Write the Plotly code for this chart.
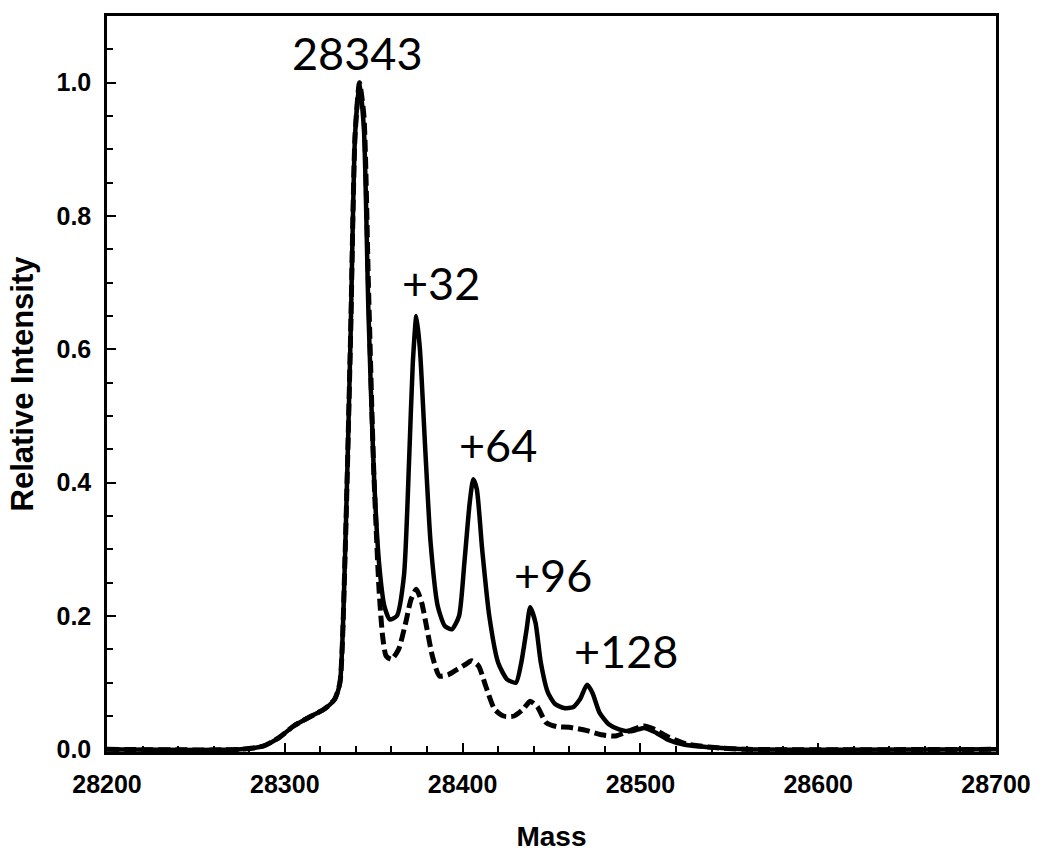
import plotly.graph_objects as go

# Solid trace (mass, relative intensity)
solid_mass = [28200, 28275, 28288, 28297, 28305, 28315, 28322, 28328, 28331, 28334,
              28337, 28339.5, 28342, 28344.5, 28347, 28350, 28353, 28356, 28359, 28363,
              28367, 28370, 28372, 28374, 28376, 28379, 28382, 28386, 28390, 28394,
              28398, 28401, 28404, 28406, 28408, 28411, 28415, 28420, 28425, 28430,
              28433, 28436, 28438, 28441, 28444, 28448, 28452, 28457, 28462, 28466,
              28470, 28473, 28477, 28482, 28488, 28495, 28502, 28508, 28515, 28525,
              28540, 28560, 28700]
solid_int = [0.0, 0.0, 0.005, 0.018, 0.035, 0.05, 0.06, 0.075, 0.10, 0.30,
             0.62, 0.92, 1.0, 0.93, 0.66, 0.42, 0.28, 0.215, 0.195, 0.20,
             0.26, 0.44, 0.58, 0.65, 0.60, 0.45, 0.31, 0.215, 0.185, 0.18,
             0.20, 0.28, 0.37, 0.405, 0.39, 0.30, 0.20, 0.13, 0.105, 0.10,
             0.13, 0.18, 0.213, 0.19, 0.13, 0.085, 0.068, 0.062, 0.063, 0.075,
             0.097, 0.085, 0.055, 0.038, 0.03, 0.027, 0.032, 0.026, 0.015, 0.007,
             0.003, 0.0, 0.0]

# Dashed trace
dash_mass = [28200, 28275, 28288, 28297, 28305, 28315, 28322, 28328, 28331, 28334,
             28337, 28339.5, 28342, 28344.5, 28347, 28350, 28353, 28355, 28357, 28360,
             28364, 28368, 28371, 28374, 28377, 28380, 28383, 28387, 28392, 28397,
             28402, 28405, 28409, 28413, 28418, 28423, 28429, 28434, 28438, 28442,
             28447, 28453, 28460, 28470, 28478, 28486, 28494, 28502, 28508, 28516,
             28526, 28540, 28560, 28700]
dash_int = [0.0, 0.0, 0.005, 0.018, 0.035, 0.05, 0.06, 0.075, 0.10, 0.30,
            0.62, 0.92, 1.0, 0.95, 0.70, 0.42, 0.24, 0.17, 0.14, 0.135,
            0.15, 0.19, 0.225, 0.24, 0.22, 0.18, 0.14, 0.11, 0.112, 0.12,
            0.128, 0.133, 0.125, 0.095, 0.06, 0.05, 0.05, 0.06, 0.072, 0.064,
            0.04, 0.034, 0.033, 0.028, 0.022, 0.02, 0.028, 0.035, 0.03, 0.018,
            0.008, 0.003, 0.0, 0.0]

# Peak labels
label_text = ["28343", "+32", "+64", "+96", "+128"]
label_x = [28341, 28388, 28420, 28451, 28492]
label_y = [1.045, 0.70, 0.457, 0.262, 0.148]

x_ticks = [28200, 28300, 28400, 28500, 28600, 28700]
y_ticks = [0.0, 0.2, 0.4, 0.6, 0.8, 1.0]

tick_font = dict(family="Liberation Sans Narrow, Liberation Sans, Arial", size=25,
                 color="black", weight="bold")

fig = go.Figure()
fig.add_trace(go.Scatter(x=solid_mass, y=solid_int, mode="lines",
                         line=dict(color="black", width=4.5, shape="spline", smoothing=0.6),
                         showlegend=False))
fig.add_trace(go.Scatter(x=dash_mass, y=dash_int, mode="lines",
                         line=dict(color="black", width=5, dash="12px,5px",
                                   shape="spline", smoothing=0.6),
                         showlegend=False))

for t, x, y in zip(label_text, label_x, label_y):
    fig.add_annotation(x=x, y=y, text=t, showarrow=False, xref="x", yref="y",
                       font=dict(family="Lato, Open Sans, sans-serif", size=45, color="black"))

fig.update_layout(
    width=1043, height=859,
    margin=dict(l=107, r=40, t=16, b=104),
    plot_bgcolor="white", paper_bgcolor="white",
    showlegend=False,
)
fig.update_xaxes(
    range=[28200, 28700], tickvals=x_ticks, ticktext=[str(v) for v in x_ticks],
    showline=True, linecolor="black", linewidth=2.5, mirror=True,
    ticks="inside", ticklen=9, tickwidth=2, tickcolor="black",
    minor=dict(dtick=20, tick0=28200, ticks="inside", ticklen=6, tickwidth=1.5, tickcolor="black"),
    showgrid=False, zeroline=False, tickfont=tick_font, ticklabelstandoff=8,
    title=dict(text="Mass", font=dict(family="Liberation Sans Narrow, Liberation Sans, Arial",
                                      size=28, color="black", weight="bold"), standoff=30),
)
fig.update_yaxes(
    range=[-0.004, 1.1], tickvals=y_ticks, ticktext=["%.1f" % v for v in y_ticks],
    showline=True, linecolor="black", linewidth=2.5, mirror=True,
    ticks="inside", ticklen=9, tickwidth=2, tickcolor="black",
    minor=dict(dtick=0.05, tick0=0, ticks="inside", ticklen=6, tickwidth=1.5, tickcolor="black"),
    showgrid=False, zeroline=False, tickfont=tick_font, ticklabelstandoff=8,
    title=dict(text="Relative Intensity", font=dict(family="Liberation Sans Narrow, Liberation Sans, Arial",
                                                    size=31, color="black", weight="bold"), standoff=14),
)

fig.write_html("out.html")
